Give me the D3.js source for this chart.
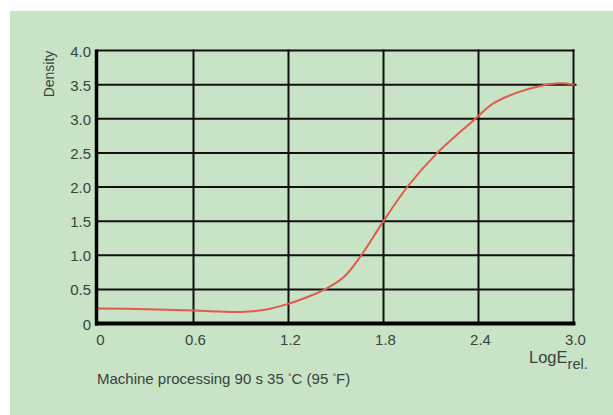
<!DOCTYPE html>
<html>
<head>
<meta charset="utf-8">
<script src="https://cdn.jsdelivr.net/npm/d3@7/dist/d3.min.js"></script>
<style>
  html, body { margin: 0; padding: 0; background: #ffffff; }
  svg { display: block; }
  text { font-family: "Liberation Sans", Arial, Helvetica, sans-serif; }
</style>
</head>
<body>
<svg id="chart" width="613" height="415"></svg>
<script>
// ---- data ----
const logE    = [0, 0.3, 0.6, 0.9, 1.05, 1.2, 1.3, 1.43, 1.55, 1.66, 1.8, 1.95, 2.14, 2.38, 2.49, 2.64, 2.79, 2.91, 3.0];
const density = [0.22, 0.21, 0.19, 0.17, 0.20, 0.29, 0.37, 0.50, 0.68, 1.00, 1.50, 2.00, 2.50, 3.00, 3.22, 3.38, 3.48, 3.52, 3.50];
const xTicks = [0, 0.6, 1.2, 1.8, 2.4, 3.0];
const xTickLabels = ["0", "0.6", "1.2", "1.8", "2.4", "3.0"];
const yTicks = [0, 0.5, 1.0, 1.5, 2.0, 2.5, 3.0, 3.5, 4.0];
const yTickLabels = ["0", "0.5", "1.0", "1.5", "2.0", "2.5", "3.0", "3.5", "4.0"];
const yLabel = "Density";
const xLabelMain = "LogE";
const xLabelSub = "rel.";
const captionParts = ["Machine processing 90 s 35 ", "\u00B0", "C (95 ", "\u00B0", "F)"];

// ---- layout ----
const svg = d3.select("#chart");
svg.append("rect").attr("x", 10).attr("y", 11).attr("width", 603).attr("height", 404).attr("fill", "#c8e3c6");

const x = d3.scaleLinear().domain([0, 3]).range([98.5, 573.5]);
const y = d3.scaleLinear().domain([0, 4]).range([323.5, 50.5]);
const textCol = "#37443a";

const g = svg.append("g");

// horizontal grid
g.selectAll("line.h").data(yTicks.filter(d => d > 0)).enter().append("line")
  .attr("x1", x(0) - 2).attr("x2", d => d === 3.5 ? x(3) + 3 : x(3) + 1)
  .attr("y1", d => y(d)).attr("y2", d => y(d))
  .attr("stroke", "#111").attr("stroke-width", 2);

// vertical grid
g.selectAll("line.v").data(xTicks.filter(d => d > 0)).enter().append("line")
  .attr("x1", d => x(d)).attr("x2", d => x(d))
  .attr("y1", y(4) - 1).attr("y2", y(0))
  .attr("stroke", "#111").attr("stroke-width", 2);

// curve
const line = d3.line().x((d, i) => x(logE[i])).y(d => y(d)).curve(d3.curveCatmullRom.alpha(0.5));
g.append("path").attr("d", line(density))
  .attr("fill", "none").attr("stroke", "#e25a48").attr("stroke-width", 2).attr("stroke-linecap", "round");

// axes (thick)
g.append("line").attr("x1", x(0) - 2).attr("x2", x(0) - 2).attr("y1", y(4) - 1).attr("y2", y(0) + 2)
  .attr("stroke", "#000").attr("stroke-width", 3.5);
g.append("line").attr("x1", x(0) - 3.5).attr("x2", x(3) + 2).attr("y1", y(0)).attr("y2", y(0))
  .attr("stroke", "#000").attr("stroke-width", 4);

// y tick labels
g.selectAll("text.yt").data(yTicks).enter().append("text")
  .attr("x", 91).attr("y", d => y(d) + 6)
  .attr("text-anchor", "end").attr("font-size", 15).attr("fill", textCol)
  .text((d, i) => yTickLabels[i]);

// x tick labels
g.selectAll("text.xt").data(xTicks).enter().append("text")
  .attr("x", d => x(d) + 2).attr("y", 345)
  .attr("text-anchor", "middle").attr("font-size", 15).attr("fill", textCol)
  .text((d, i) => xTickLabels[i]);

// y label
svg.append("text").attr("transform", "translate(54,74) rotate(-90)")
  .attr("text-anchor", "middle").attr("font-size", 14).attr("fill", textCol).text(yLabel);

// x label
const xl = svg.append("text").attr("x", 529).attr("y", 363).attr("font-size", 16.5).attr("fill", textCol);
xl.append("tspan").text(xLabelMain);
xl.append("tspan").attr("dy", 6).attr("font-size", 14.5).text(xLabelSub);

// caption
const cap = svg.append("text").attr("x", 97).attr("y", 384).attr("font-size", 15).attr("fill", textCol);
captionParts.forEach((p, i) => {
  const t = cap.append("tspan").text(p);
  if (p === "\u00B0") t.attr("font-size", 9).attr("dy", -4);
  else if (i > 0) t.attr("dy", 4);
});
</script>
</body>
</html>
